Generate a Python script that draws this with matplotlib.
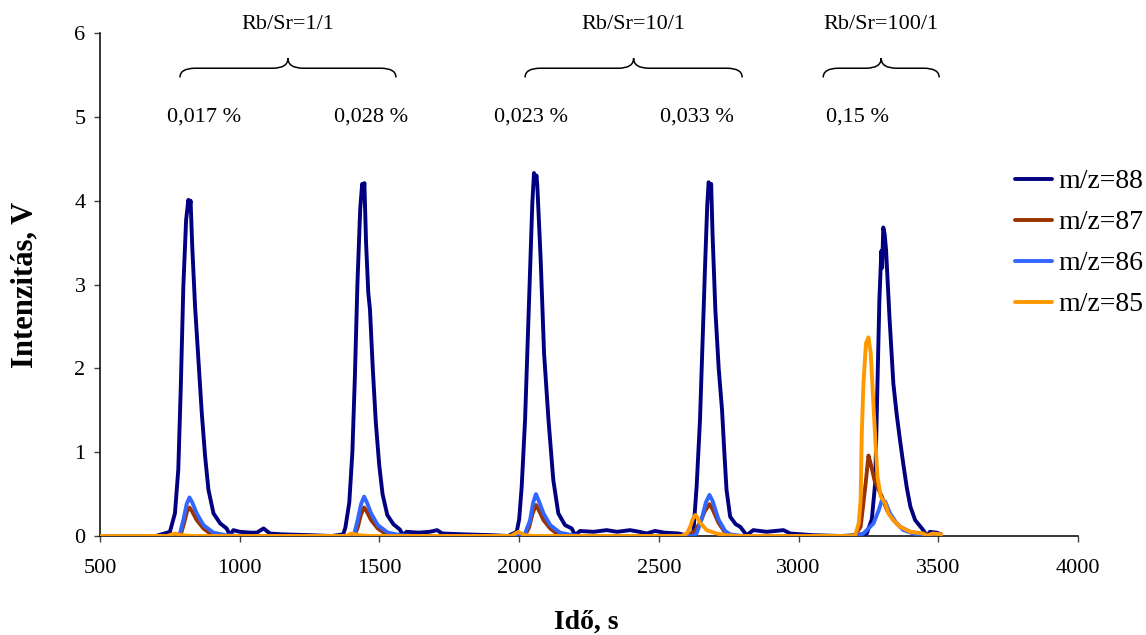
import matplotlib
matplotlib.use("Agg")
import matplotlib.pyplot as plt
from matplotlib.path import Path
from matplotlib.patches import PathPatch

plt.rcParams['font.family'] = ['Liberation Serif', 'DejaVu Serif']

# --- time series (time in s, intensity in V) ---
t88 = [500, 700, 750, 768, 780, 789, 798, 808, 816, 820, 824, 830, 840, 852, 864, 876, 888, 906, 930,
       953, 965, 977, 1000, 1040, 1061, 1085, 1108, 1150, 1250, 1330,
       1370, 1378, 1392, 1403, 1412, 1421, 1431, 1438, 1442, 1446, 1452, 1460, 1466, 1476, 1487, 1499,
       1511, 1528, 1550, 1572, 1585, 1597, 1640, 1680, 1706, 1725, 1800, 1900, 1960,
       1991, 2000, 2009, 2021, 2029, 2039, 2047, 2053, 2058, 2062, 2065, 2077, 2089, 2105, 2122, 2140,
       2164, 2188, 2200, 2218, 2266, 2313, 2350, 2397, 2430, 2456, 2486, 2520, 2570, 2610,
       2623, 2635, 2647, 2656, 2665, 2673, 2678, 2683, 2687, 2692, 2702, 2714, 2726, 2735, 2742, 2755,
       2775, 2791, 2814, 2838, 2886, 2946, 2970, 3050, 3150,
       3208, 3244, 3262, 3274, 3282, 3289, 3296, 3299, 3303, 3308, 3313, 3325, 3339, 3351, 3363, 3375,
       3387, 3400, 3417, 3446, 3459, 3470, 3494, 3510]
v88 = [0.0, 0.0, 0.05, 0.27, 0.79, 1.78, 2.97, 3.77, 4.01, 3.9, 4.0, 3.45, 2.74, 2.1, 1.47, 0.95, 0.55, 0.27, 0.15,
       0.09, 0.01, 0.07, 0.05, 0.04, 0.04, 0.09, 0.03, 0.02, 0.01, 0.0,
       0.02, 0.1, 0.4, 1.0, 1.9, 3.0, 3.9, 4.2, 4.1, 4.21, 3.5, 2.9, 2.7, 2.0, 1.35, 0.85,
       0.5, 0.25, 0.14, 0.08, 0.01, 0.05, 0.04, 0.05, 0.07, 0.03, 0.02, 0.01, 0.0,
       0.05, 0.2, 0.59, 1.38, 2.18, 3.17, 3.97, 4.33, 4.25, 4.3, 4.17, 3.29, 2.18, 1.38, 0.67, 0.27,
       0.13, 0.09, 0.01, 0.06, 0.05, 0.07, 0.05, 0.07, 0.05, 0.03, 0.06, 0.04, 0.03, 0.0,
       0.03, 0.59, 1.38, 2.3, 3.2, 3.95, 4.22, 4.1, 4.2, 3.6, 2.7, 2.0, 1.5, 0.95, 0.55, 0.23,
       0.14, 0.11, 0.01, 0.07, 0.05, 0.07, 0.03, 0.01, 0.0,
       0.01, 0.03, 0.2, 0.63, 1.82, 2.81, 3.4, 3.2, 3.68, 3.6, 3.41, 2.62, 1.82, 1.45, 1.14, 0.85,
       0.58, 0.35, 0.19, 0.07, 0.0, 0.05, 0.04, 0.02]

t87 = [500, 780, 790, 802, 812, 820, 830, 846, 870, 894, 940,
       1410, 1422, 1434, 1445, 1455, 1470, 1494, 1520, 1570,
       2020, 2035, 2048, 2060, 2070, 2087, 2111, 2134, 2180,
       2600, 2629, 2647, 2665, 2681, 2692, 2713, 2737, 2760,
       3200, 3222, 3240, 3250, 3258, 3272, 3287, 3298, 3316, 3339, 3363, 3399, 3446, 3510]
v87 = [0.0, 0.0, 0.03, 0.17, 0.3, 0.34, 0.29, 0.19, 0.09, 0.03, 0.0,
       0.0, 0.1, 0.26, 0.34, 0.29, 0.19, 0.09, 0.03, 0.0,
       0.0, 0.1, 0.27, 0.37, 0.31, 0.19, 0.09, 0.03, 0.0,
       0.0, 0.06, 0.16, 0.3, 0.38, 0.32, 0.16, 0.04, 0.0,
       0.0, 0.11, 0.63, 0.96, 0.86, 0.66, 0.55, 0.47, 0.31, 0.19, 0.11, 0.05, 0.02, 0.01]

t86 = [500, 770, 786, 798, 810, 820, 830, 846, 870, 906, 950, 1000,
       1400, 1410, 1422, 1434, 1445, 1455, 1470, 1494, 1530, 1575, 1620,
       2010, 2021, 2039, 2050, 2060, 2070, 2087, 2111, 2146, 2190, 2230,
       2620, 2635, 2653, 2668, 2681, 2692, 2713, 2737, 2755, 2800,
       3210, 3232, 3268, 3287, 3298, 3310, 3327, 3351, 3375, 3411, 3450, 3510]
v86 = [0.0, 0.0, 0.03, 0.19, 0.38, 0.46, 0.4, 0.27, 0.13, 0.04, 0.01, 0.0,
       0.0, 0.03, 0.19, 0.38, 0.47, 0.4, 0.27, 0.13, 0.04, 0.01, 0.0,
       0.0, 0.03, 0.19, 0.4, 0.5, 0.42, 0.27, 0.13, 0.04, 0.01, 0.0,
       0.0, 0.03, 0.2, 0.4, 0.49, 0.42, 0.2, 0.06, 0.02, 0.0,
       0.0, 0.03, 0.15, 0.31, 0.43, 0.41, 0.27, 0.15, 0.07, 0.03, 0.01, 0.01]

t85 = [500, 740, 768, 790, 830, 1380, 1400, 1425, 1460, 1970, 1997, 2020, 2050,
       2580, 2600, 2612, 2622, 2630, 2638, 2647, 2671, 2707, 2740, 2780,
       3190, 3202, 3215, 3222, 3226, 3232, 3241, 3250, 3258, 3265, 3274, 3282, 3294, 3310, 3321,
       3339, 3363, 3399, 3446, 3459, 3480, 3510]
v85 = [0.0, 0.0, 0.03, 0.01, 0.0, 0.0, 0.03, 0.01, 0.0, 0.0, 0.05, 0.01, 0.0,
       0.0, 0.03, 0.11, 0.21, 0.25, 0.22, 0.16, 0.07, 0.03, 0.01, 0.0,
       0.0, 0.0, 0.15, 0.43, 1.22, 1.82, 2.3, 2.37, 2.19, 1.74, 1.18, 0.71, 0.47, 0.39, 0.27,
       0.19, 0.11, 0.05, 0.03, 0.0, 0.03, 0.02]

series = [("m/z=88", t88, v88, "#000080"),
          ("m/z=87", t87, v87, "#993300"),
          ("m/z=86", t86, v86, "#3366FF"),
          ("m/z=85", t85, v85, "#FF9900")]
draw_order = [0, 2, 1, 3]

x_ticks = [500, 1000, 1500, 2000, 2500, 3000, 3500, 4000]
y_ticks = [0, 1, 2, 3, 4, 5, 6]

# sample groups: (ratio label, start, end) and per-peak percentages
groups = [("Rb/Sr=1/1", 786, 1559), ("Rb/Sr=10/1", 2021, 2798), ("Rb/Sr=100/1", 3088, 3503)]
pct_labels = ["0,017 %", "0,028 %", "0,023 %", "0,033 %", "0,15 %"]
pct_pos = [872, 1470, 2043, 2637, 3209]

fig = plt.figure(figsize=(11.46, 6.35), dpi=100)
ax = fig.add_axes([0.0873, 0.1559, 0.8534, 0.7921])

lines = {}
for i in draw_order:
    name, t, v, c = series[i]
    ln, = ax.plot(t, v, color=c, lw=2.8, label=name, solid_joinstyle='round',
                  solid_capstyle='round', zorder=3 + i)
    lines[i] = ln

ax.set_xlim(500, 4000)
ax.set_ylim(0, 6)
ax.set_xticks(x_ticks)
ax.set_yticks(y_ticks)
ax.tick_params(direction='out', length=4.5, width=1, labelsize=16, color='#404040')
ax.tick_params(axis='y', pad=6)
ax.tick_params(axis='x', pad=12)
for s in ['top', 'right']:
    ax.spines[s].set_visible(False)
for s in ['left', 'bottom']:
    ax.spines[s].set_linewidth(1.1)

ax.set_xlabel("Idő, s", fontsize=20, fontweight='bold')
ax.set_ylabel("Intenzitás, V", fontsize=22, fontweight='bold')
ax.xaxis.set_label_coords(0.497, -0.147)
ax.yaxis.set_label_coords(-0.062, 0.5)

# curly braces above each group
def brace(x0, x1, yb=5.47, yh=5.58, yt=5.70, r=55):
    xm = 0.5 * (x0 + x1)
    verts = [(x0, yb), (x0, yh), (x0 + r, yh), (xm - r, yh), (xm, yh), (xm, yt),
             (xm, yh), (xm + r, yh), (x1 - r, yh), (x1, yh), (x1, yb)]
    codes = [Path.MOVETO, Path.CURVE3, Path.CURVE3, Path.LINETO, Path.CURVE3, Path.CURVE3,
             Path.CURVE3, Path.CURVE3, Path.LINETO, Path.CURVE3, Path.CURVE3]
    ax.add_patch(PathPatch(Path(verts, codes), fill=False, lw=1.1, color='black',
                           clip_on=False, zorder=5))
    return xm

for label, x0, x1 in groups:
    xm = brace(x0, x1)
    ax.text(xm, 6.1, label, ha='center', va='center', fontsize=16, clip_on=False)

for lab, xp in zip(pct_labels, pct_pos):
    ax.text(xp, 5.0, lab, ha='center', va='center', fontsize=16)

handles = [lines[i] for i in range(4)]
fig.legend(handles, [s[0] for s in series], loc='upper left', bbox_to_anchor=(0.8857, 0.734),
           frameon=False, fontsize=20, handlelength=1.33, handletextpad=0.22,
           labelspacing=0.56, borderpad=0.0, borderaxespad=0.0)

fig.savefig("out.png", dpi=100)
